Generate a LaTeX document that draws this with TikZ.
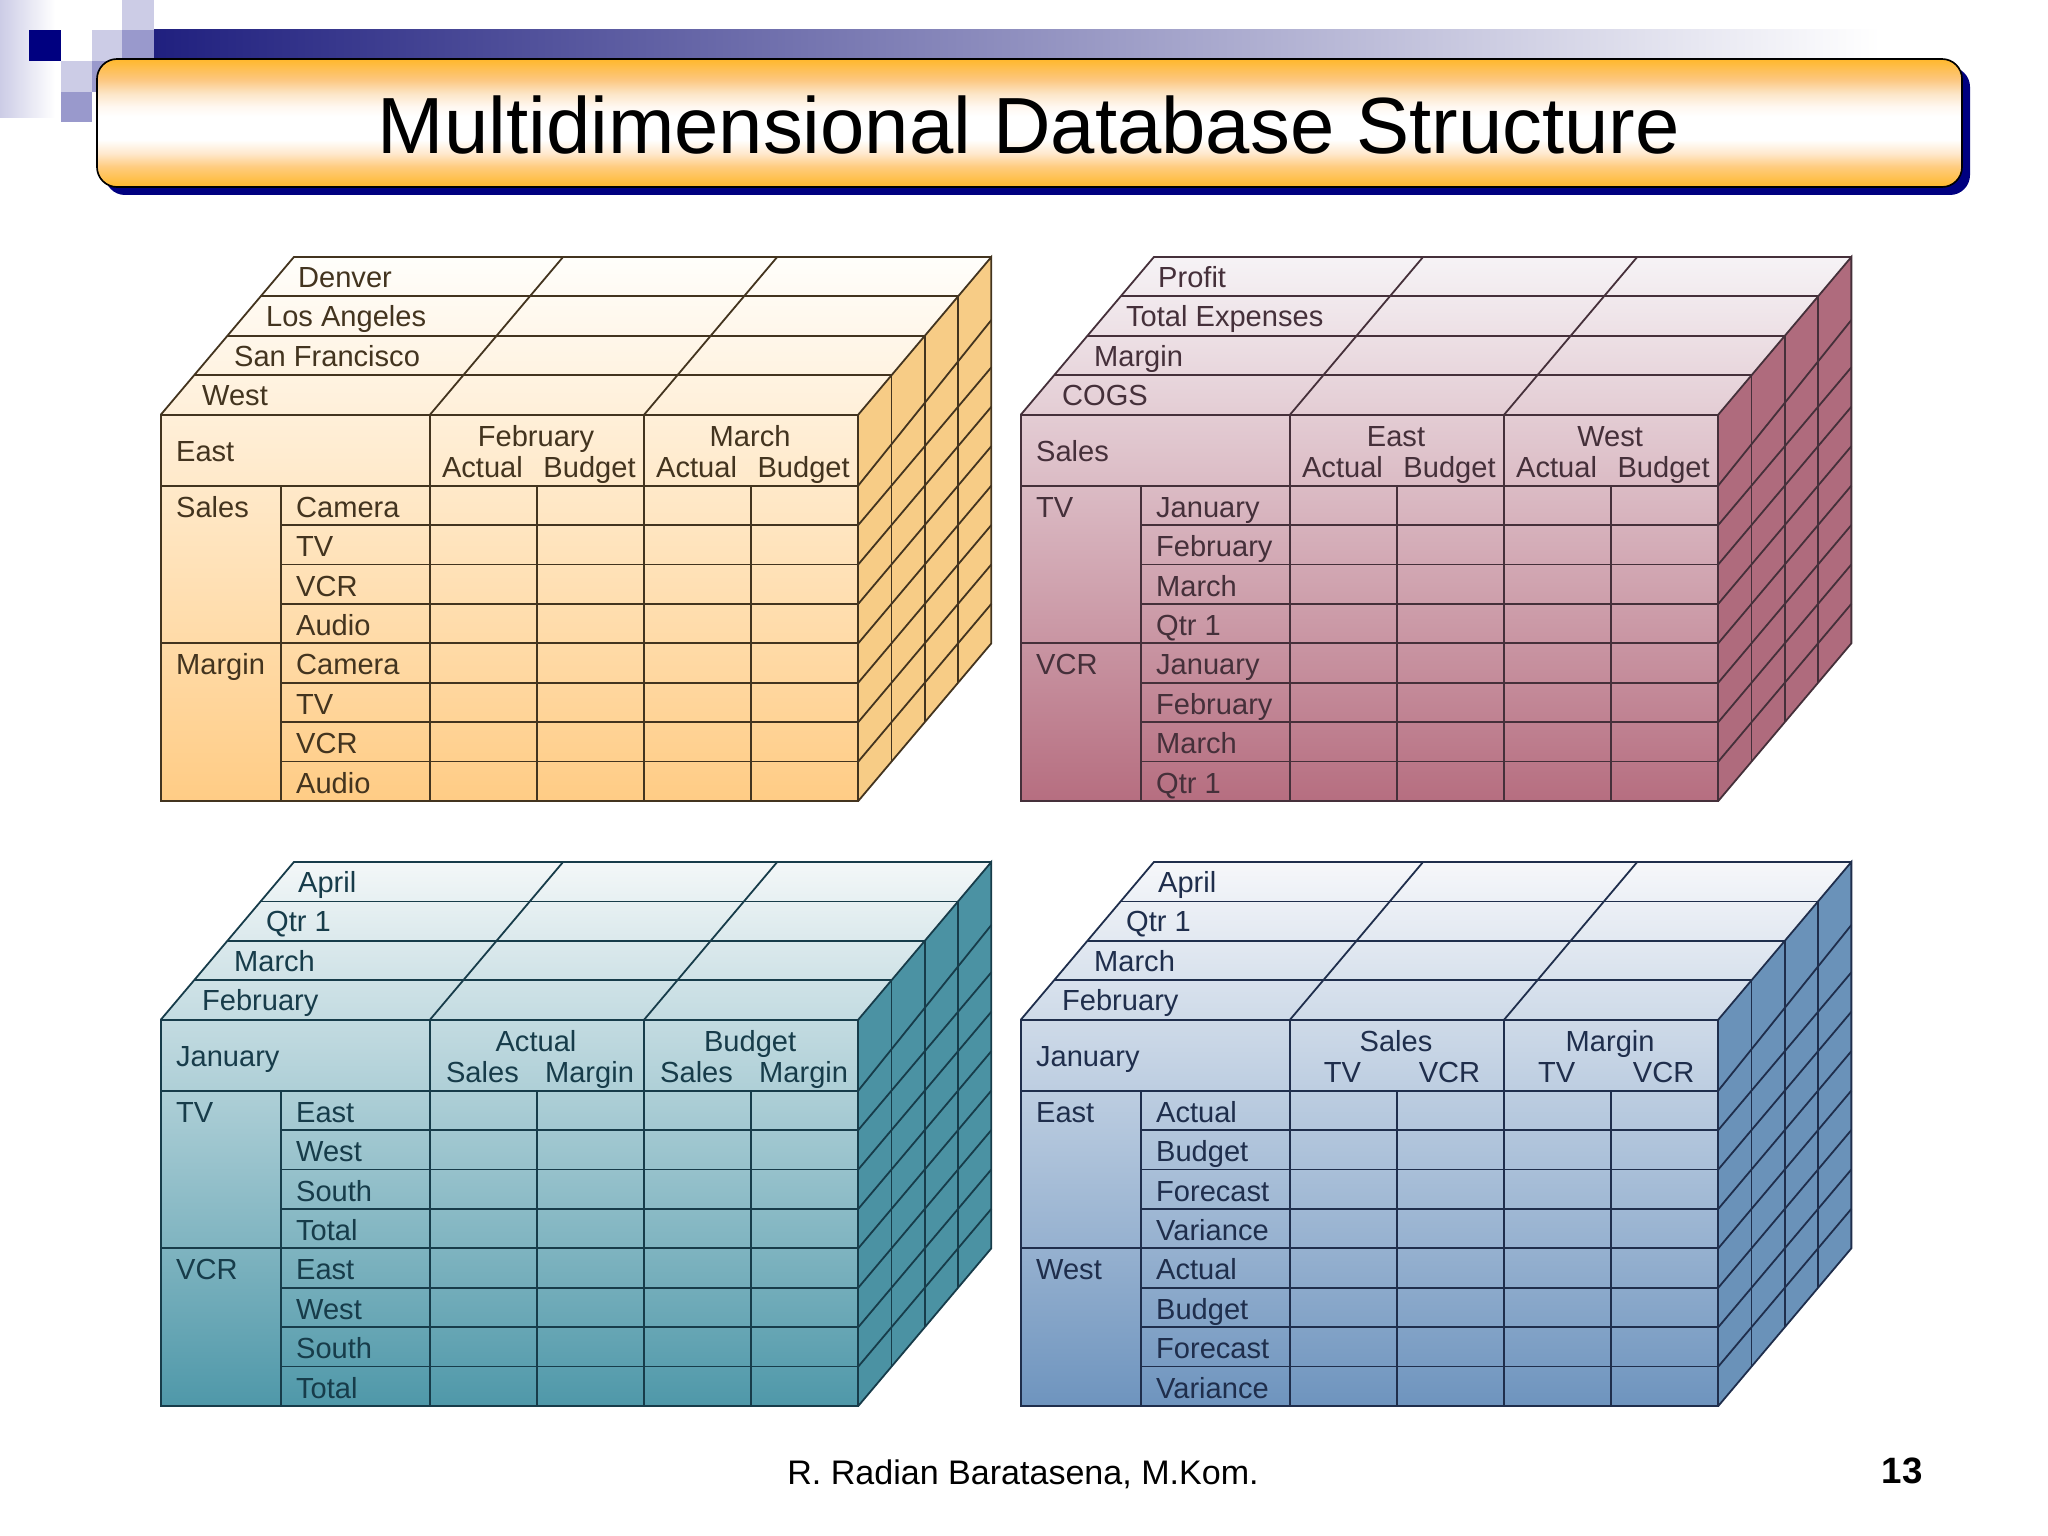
\documentclass[tikz,border=0pt]{standalone}
\usepackage{fontspec}
\setmainfont{Liberation Sans}
\definecolor{navy}{HTML}{000080}
\definecolor{lilac}{HTML}{CCCCE6}
\definecolor{mauve}{HTML}{9999CC}
\definecolor{bardark}{HTML}{20207F}
\definecolor{barmid}{HTML}{ABABC5}
\definecolor{orangetop}{HTML}{FFFEFB}
\definecolor{orangeside}{HTML}{F7CC86}
\definecolor{orangelow}{HTML}{FFCC85}
\definecolor{orangeink}{HTML}{43341F}
\definecolor{rosetop}{HTML}{F6F3F6}
\definecolor{roseside}{HTML}{AF6B7D}
\definecolor{roselow}{HTML}{B66E80}
\definecolor{roseink}{HTML}{45303A}
\definecolor{tealtop}{HTML}{F3F7F8}
\definecolor{tealside}{HTML}{4B92A3}
\definecolor{teallow}{HTML}{4F98A9}
\definecolor{tealink}{HTML}{173C4A}
\definecolor{bluetop}{HTML}{F6F7FA}
\definecolor{blueside}{HTML}{6A92B9}
\definecolor{bluelow}{HTML}{6E94BE}
\definecolor{blueink}{HTML}{1F2E4C}
\pgfdeclareverticalshading{titlebar}{100bp}{rgb(0bp)=(1,.72,.17);rgb(25bp)=(1,.72,.17);rgb(33bp)=(1,.80,.50);rgb(38bp)=(1,.91,.80);rgb(43.5bp)=(1,1,1);rgb(52.5bp)=(1,1,1);rgb(56.5bp)=(1,.97,.94);rgb(61.5bp)=(.99,.90,.78);rgb(67bp)=(.99,.78,.50);rgb(75bp)=(1,.72,.17);rgb(100bp)=(1,.72,.17)}
\tikzset{
cubeline/.style={line width=1.3pt},
toplab/.style={anchor=base west,inner sep=0,font=\fontsize{21}{25}\selectfont},
headlab/.style={anchor=base,inner sep=0,font=\fontsize{21}{25}\selectfont}
}
% top colour, low colour, side colour, line colour
\newcommand{\cubegrid}[4]{
\shade[top color=#1,bottom color=#2] (-2.514,0) -- (-2.514,9.8) -- (-1.271,13.8) -- (5.243,13.8) -- (4,9.8) -- (4,0) -- cycle;
\fill[#3] (4,0) -- (5.243,4) -- (5.243,13.8) -- (4,9.8) -- cycle;
\draw[cubeline,#4,step=1] (0,0) grid (4,8);
\draw[cubeline,#4,xstep=9,ystep=1] (-1.393,0) grid (0,8);
\draw[cubeline,#4] (-1.393,0) -- (-1.393,8);
\draw[cubeline,#4] (-2.514,0) -- (-2.514,9.8) -- (4,9.8) -- (4,0) -- cycle;
\draw[cubeline,#4] (-2.514,8) -- (-1.393,8);
\draw[cubeline,#4] (-2.514,4) -- (-1.393,4);
\draw[cubeline,#4] (0,8) -- (0,9.8);
\draw[cubeline,#4] (2,8) -- (2,9.8);
\draw[cubeline,#4] (-2.514,9.8) -- (-1.271,13.8) -- (5.243,13.8);
\draw[cubeline,#4] (-2.203,10.8) -- (4.311,10.8);
\draw[cubeline,#4] (-1.892,11.8) -- (4.622,11.8);
\draw[cubeline,#4] (-1.582,12.8) -- (4.933,12.8);
\draw[cubeline,#4] (0,9.8) -- (1.243,13.8);
\draw[cubeline,#4] (2,9.8) -- (3.243,13.8);
\draw[cubeline,#4] (4,9.8) -- (5.243,13.8) -- (5.243,4) -- (4,0);
\draw[cubeline,#4] (4.311,10.8) -- (4.311,1);
\draw[cubeline,#4] (4.622,11.8) -- (4.622,2);
\draw[cubeline,#4] (4.933,12.8) -- (4.933,3);
\draw[cubeline,#4] (4,1) -- (5.243,5);
\draw[cubeline,#4] (4,2) -- (5.243,6);
\draw[cubeline,#4] (4,3) -- (5.243,7);
\draw[cubeline,#4] (4,4) -- (5.243,8);
\draw[cubeline,#4] (4,5) -- (5.243,9);
\draw[cubeline,#4] (4,6) -- (5.243,10);
\draw[cubeline,#4] (4,7) -- (5.243,11);
\draw[cubeline,#4] (4,8) -- (5.243,12.2);
}

\begin{document}
\begin{tikzpicture}[x=0.01in,y=-0.01in]
\useasboundingbox (0,0) rectangle (2048,1536);
\shade[left color=lilac,right color=white] (0,0) rectangle (55,118);
\shade[left color=bardark,middle color=barmid,right color=white] (154,30) rectangle (1880,58);
\fill[navy] (29,30) rectangle (61,61);
\fill[lilac] (92,30) rectangle (122,61);
\fill[mauve] (122,30) rectangle (154,58);
\fill[lilac] (122,0) rectangle (154,30);
\fill[lilac] (61,61) rectangle (92,92);
\fill[mauve] (92,61) rectangle (110,92);
\fill[mauve] (61,92) rectangle (92,122);
\fill[navy,rounded corners=0.2in] (105,67) rectangle (1970,195);
\draw[line width=1.2pt,shading=titlebar,rounded corners=0.2in] (97,59) rectangle (1962,187);
\node[anchor=base,inner sep=0,font=\fontsize{57.55}{60}\selectfont] (title) at (1029,154) {Multidimensional Database Structure};
\node[anchor=base,inner sep=0,font=\fontsize{24.6}{28}\selectfont] (footer) at (1023,1484) {R. Radian Baratasena, M.Kom.};
\node[anchor=base,inner sep=0,font=\fontsize{26.5}{28}\selectfont\bfseries] (page) at (1902,1483) {13};
%ORANGE
\begin{scope}[shift={(430,801)},x=1.07in,y=0.394in,text=orangeink]
\cubegrid{orangetop}{orangelow}{orangeside}{orangeink}
\node[toplab] (aDen) at (-1.234,13.03) {Denver};
\node[toplab] (aLos) at (-1.533,12.03) {Los Angeles};
\node[toplab] (aSan) at (-1.832,11.03) {San Francisco};
\node[toplab] (aWes) at (-2.131,10.03) {West};
\node[toplab] (aEas) at (-2.374,8.62) {East};
\node[headlab] (aFeb) at (0.99,9.0) {February};
\node[headlab] (aMar) at (2.99,9.0) {March};
\node[headlab] (aAc1) at (0.49,8.2) {Actual};
\node[headlab] (aBu1) at (1.49,8.2) {Budget};
\node[headlab] (aAc2) at (2.49,8.2) {Actual};
\node[headlab] (aBu2) at (3.49,8.2) {Budget};
\node[toplab] (aSal) at (-2.374,7.2) {Sales};
\node[toplab] (aMrg) at (-2.374,3.2) {Margin};
\node[toplab] (aCa1) at (-1.253,7.2) {Camera};
\node[toplab] (aTv1) at (-1.253,6.2) {TV};
\node[toplab] (aVc1) at (-1.253,5.2) {VCR};
\node[toplab] (aAu1) at (-1.253,4.2) {Audio};
\node[toplab] (aCa2) at (-1.253,3.2) {Camera};
\node[toplab] (aTv2) at (-1.253,2.2) {TV};
\node[toplab] (aVc2) at (-1.253,1.2) {VCR};
\node[toplab] (aAu2) at (-1.253,0.2) {Audio};
\end{scope}
%ROSE
\begin{scope}[shift={(1290,801)},x=1.07in,y=0.394in,text=roseink]
\cubegrid{rosetop}{roselow}{roseside}{roseink}
\node[toplab] (bPro) at (-1.234,13.03) {Profit};
\node[toplab] (bTot) at (-1.533,12.03) {Total Expenses};
\node[toplab] (bMrg) at (-1.832,11.03) {Margin};
\node[toplab] (bCog) at (-2.131,10.03) {COGS};
\node[toplab] (bSal) at (-2.374,8.62) {Sales};
\node[headlab] (bEas) at (0.99,9.0) {East};
\node[headlab] (bWes) at (2.99,9.0) {West};
\node[headlab] (bAc1) at (0.49,8.2) {Actual};
\node[headlab] (bBu1) at (1.49,8.2) {Budget};
\node[headlab] (bAc2) at (2.49,8.2) {Actual};
\node[headlab] (bBu2) at (3.49,8.2) {Budget};
\node[toplab] (bTv) at (-2.374,7.2) {TV};
\node[toplab] (bVcr) at (-2.374,3.2) {VCR};
\node[toplab] (bJa1) at (-1.253,7.2) {January};
\node[toplab] (bFe1) at (-1.253,6.2) {February};
\node[toplab] (bMa1) at (-1.253,5.2) {March};
\node[toplab] (bQt1) at (-1.253,4.2) {Qtr 1};
\node[toplab] (bJa2) at (-1.253,3.2) {January};
\node[toplab] (bFe2) at (-1.253,2.2) {February};
\node[toplab] (bMa2) at (-1.253,1.2) {March};
\node[toplab] (bQt2) at (-1.253,0.2) {Qtr 1};
\end{scope}
%TEAL
\begin{scope}[shift={(430,1406)},x=1.07in,y=0.394in,text=tealink]
\cubegrid{tealtop}{teallow}{tealside}{tealink}
\node[toplab] (cApr) at (-1.234,13.03) {April};
\node[toplab] (cQtr) at (-1.533,12.03) {Qtr 1};
\node[toplab] (cMar) at (-1.832,11.03) {March};
\node[toplab] (cFeb) at (-2.131,10.03) {February};
\node[toplab] (cJan) at (-2.374,8.62) {January};
\node[headlab] (cAct) at (0.99,9.0) {Actual};
\node[headlab] (cBud) at (2.99,9.0) {Budget};
\node[headlab] (cSa1) at (0.49,8.2) {Sales};
\node[headlab] (cMa1) at (1.49,8.2) {Margin};
\node[headlab] (cSa2) at (2.49,8.2) {Sales};
\node[headlab] (cMa2) at (3.49,8.2) {Margin};
\node[toplab] (cTv) at (-2.374,7.2) {TV};
\node[toplab] (cVcr) at (-2.374,3.2) {VCR};
\node[toplab] (cEa1) at (-1.253,7.2) {East};
\node[toplab] (cWe1) at (-1.253,6.2) {West};
\node[toplab] (cSo1) at (-1.253,5.2) {South};
\node[toplab] (cTo1) at (-1.253,4.2) {Total};
\node[toplab] (cEa2) at (-1.253,3.2) {East};
\node[toplab] (cWe2) at (-1.253,2.2) {West};
\node[toplab] (cSo2) at (-1.253,1.2) {South};
\node[toplab] (cTo2) at (-1.253,0.2) {Total};
\end{scope}
%BLUE
\begin{scope}[shift={(1290,1406)},x=1.07in,y=0.394in,text=blueink]
\cubegrid{bluetop}{bluelow}{blueside}{blueink}
\node[toplab] (dApr) at (-1.234,13.03) {April};
\node[toplab] (dQtr) at (-1.533,12.03) {Qtr 1};
\node[toplab] (dMar) at (-1.832,11.03) {March};
\node[toplab] (dFeb) at (-2.131,10.03) {February};
\node[toplab] (dJan) at (-2.374,8.62) {January};
\node[headlab] (dSal) at (0.99,9.0) {Sales};
\node[headlab] (dMrg) at (2.99,9.0) {Margin};
\node[headlab] (dTv1) at (0.49,8.2) {TV};
\node[headlab] (dVc1) at (1.49,8.2) {VCR};
\node[headlab] (dTv2) at (2.49,8.2) {TV};
\node[headlab] (dVc2) at (3.49,8.2) {VCR};
\node[toplab] (dEas) at (-2.374,7.2) {East};
\node[toplab] (dWes) at (-2.374,3.2) {West};
\node[toplab] (dAc1) at (-1.253,7.2) {Actual};
\node[toplab] (dBu1) at (-1.253,6.2) {Budget};
\node[toplab] (dFo1) at (-1.253,5.2) {Forecast};
\node[toplab] (dVa1) at (-1.253,4.2) {Variance};
\node[toplab] (dAc2) at (-1.253,3.2) {Actual};
\node[toplab] (dBu2) at (-1.253,2.2) {Budget};
\node[toplab] (dFo2) at (-1.253,1.2) {Forecast};
\node[toplab] (dVa2) at (-1.253,0.2) {Variance};
\end{scope}
\end{tikzpicture}
\end{document}
